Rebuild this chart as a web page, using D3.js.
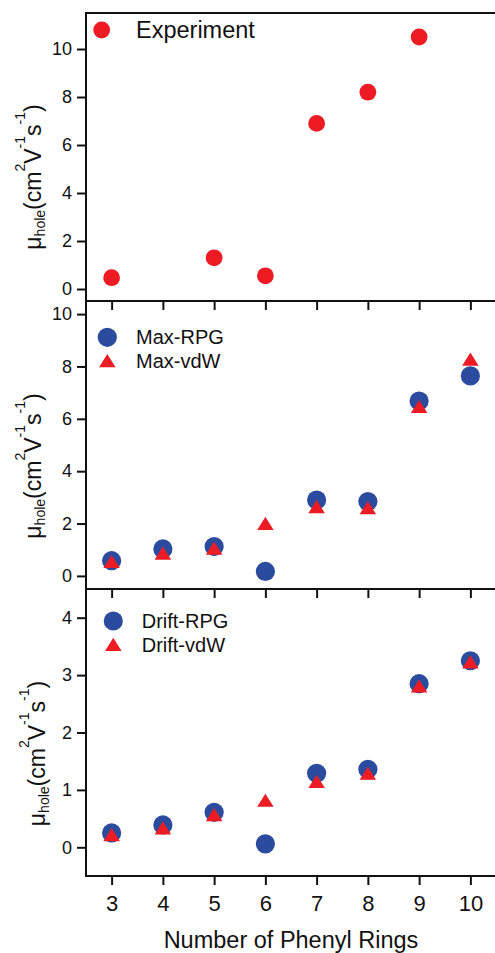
<!DOCTYPE html>
<html><head><meta charset="utf-8">
<script src="https://cdn.jsdelivr.net/npm/d3@7"></script>
<style>
html,body{margin:0;padding:0;background:#fff;}
svg{display:block;}
text{font-family:"Liberation Sans",Arial,Helvetica,sans-serif;fill:#111;}
</style></head>
<body>
<svg id="c" width="495" height="953"></svg>
<script>
// ---- data ----
const rings = [3,4,5,6,7,8,9,10];
const xTicks = [3,4,5,6,7,8,9,10];
const expRings = [3,5,6,7,8,9];
const experiment = [0.47,1.30,0.55,6.9,8.2,10.5];
const maxRPG = [0.58,1.03,1.12,0.17,2.90,2.84,6.68,7.64];
const maxVdW = [0.55,0.87,1.06,2.01,2.65,2.61,6.47,8.28];
const driftRPG = [0.25,0.39,0.61,0.06,1.29,1.36,2.85,3.25];
const driftVdW = [0.22,0.34,0.57,0.82,1.15,1.29,2.81,3.23];
const yTicksTop = [0,2,4,6,8,10];
const yTicksMid = [0,2,4,6,8,10];
const yTicksBot = [0,1,2,3,4];
const xTitle = "Number of Phenyl Rings";

const RED = "#ed1c24", BLUE = "#2a4b9e";

const svg = d3.select("#c");
const x = d3.scaleLinear().domain([2.5,10.5]).range([86,496]);

// bbox-centred triangle symbol
const tri = {draw(ctx, size){ const w=size, h=size*0.8; ctx.moveTo(0,-h/2); ctx.lineTo(w/2,h/2); ctx.lineTo(-w/2,h/2); ctx.closePath(); }};
const triPath = d3.symbol().type(tri).size(16.5)();

const panels = [
  {top:13, bot:301, dom:[-0.5,11.5], ticks:yTicksTop, labelX:40.5, labelDY:20},
  {top:301, bot:589, dom:[-0.5,10.5], ticks:yTicksMid, labelX:40.5, labelDY:21},
  {top:589, bot:876, dom:[-0.5,4.5], ticks:yTicksBot, labelX:45, labelDY:21}
];
panels.forEach(p => p.y = d3.scaleLinear().domain(p.dom).range([p.bot,p.top]));

function yLabel(p){
  const cy = (p.top+p.bot)/2 + p.labelDY;
  const t = svg.append("text").attr("transform",`translate(${p.labelX},${cy}) rotate(-90)`)
    .attr("text-anchor","middle").attr("font-size",23);
  const S = 16;
  t.append("tspan").text("μ");
  t.append("tspan").attr("font-size",14).attr("dy",4).text("hole");
  t.append("tspan").attr("dy",-4).text("(cm");
  t.append("tspan").attr("font-size",14).attr("dy",-S).text("2");
  t.append("tspan").attr("dy",S).text("V");
  t.append("tspan").attr("font-size",14).attr("dy",-S).text("-1");
  t.append("tspan").attr("dy",S).text("s");
  t.append("tspan").attr("font-size",14).attr("dy",-S).text("-1");
  t.append("tspan").attr("dy",S).text(")");
}

panels.forEach((p,i) => {
  const g = svg.append("g");
  // y axis
  const ya = g.append("g").attr("transform","translate(86,0)")
    .call(d3.axisLeft(p.y).tickValues(p.ticks).tickFormat(d3.format("d")).tickSize(9).tickPadding(5).tickSizeOuter(0));
  ya.select(".domain").remove();
  ya.selectAll(".tick line").attr("stroke","#111").attr("stroke-width",2);
  ya.selectAll(".tick text").attr("font-size",18).attr("font-family","Liberation Sans, Arial, sans-serif").attr("fill","#111");
  // x axis (outer ticks)
  const xa = g.append("g").attr("transform",`translate(0,${p.bot})`)
    .call(d3.axisBottom(x).tickValues(xTicks).tickFormat(d3.format("d")).tickSize(9).tickSizeOuter(0));
  xa.select(".domain").remove();
  xa.selectAll(".tick line").attr("stroke","#111").attr("stroke-width",2);
  if(i<2){ xa.selectAll(".tick text").remove(); }
  else {
    xa.selectAll(".tick text").attr("dy",null).attr("y",34.5).attr("font-size",22)
      .attr("font-family","Liberation Sans, Arial, sans-serif").attr("fill","#111");
  }
  // frame
  g.append("rect").attr("x",x.range()[0]).attr("y",p.top).attr("width",x.range()[1]-x.range()[0]).attr("height",p.bot-p.top)
    .attr("fill","none").attr("stroke","#111").attr("stroke-width",2);
  yLabel(p);
});

// top panel: experiment
const P0 = panels[0], P1 = panels[1], P2 = panels[2];
svg.append("g").selectAll("circle").data(expRings.map((r,i)=>[r,experiment[i]])).join("circle")
  .attr("cx",d=>x(d[0])).attr("cy",d=>P0.y(d[1])).attr("r",8.4).attr("fill",RED);

function drawPair(p, rpg, vdw){
  svg.append("g").selectAll("circle").data(rings.map((r,i)=>[r,rpg[i]])).join("circle")
    .attr("cx",d=>x(d[0])).attr("cy",d=>p.y(d[1])).attr("r",9.6).attr("fill",BLUE);
  svg.append("g").selectAll("path").data(rings.map((r,i)=>[r,vdw[i]])).join("path")
    .attr("d",triPath).attr("transform",d=>`translate(${x(d[0])},${p.y(d[1])})`).attr("fill",RED);
}
drawPair(P1, maxRPG, maxVdW);
drawPair(P2, driftRPG, driftVdW);

// legends
function legendText(tx, ty, s, fs){
  svg.append("text").attr("x",tx).attr("y",ty).attr("font-size",fs).text(s);
}
svg.append("circle").attr("cx",101.7).attr("cy",30).attr("r",8.4).attr("fill",RED);
legendText(136,38,"Experiment",23.5);

svg.append("circle").attr("cx",107.3).attr("cy",337.3).attr("r",9.6).attr("fill",BLUE);
svg.append("path").attr("d",triPath).attr("transform","translate(107.3,360.7)").attr("fill",RED);
legendText(136,343.5,"Max-RPG",20);
legendText(136,368.3,"Max-vdW",20);

svg.append("circle").attr("cx",113.3).attr("cy",621).attr("r",9.6).attr("fill",BLUE);
svg.append("path").attr("d",triPath).attr("transform","translate(113.3,644.3)").attr("fill",RED);
legendText(141.7,627.7,"Drift-RPG",20);
legendText(141.7,652.3,"Drift-vdW",20);

// x title
svg.append("text").attr("x",(x.range()[0]+x.range()[1])/2).attr("y",948.3)
  .attr("text-anchor","middle").attr("font-size",23.5).text(xTitle);
</script>
</body></html>
